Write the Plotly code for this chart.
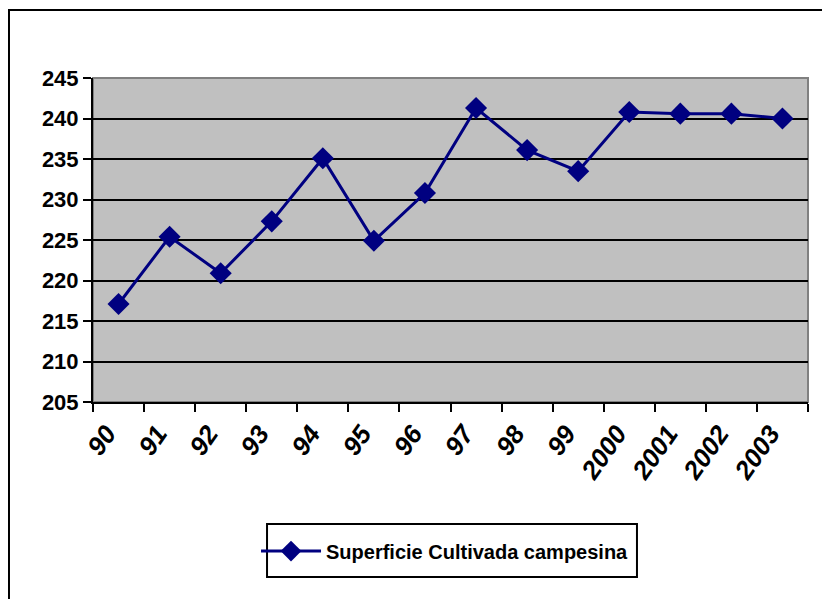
import plotly.graph_objects as go

years = ["90", "91", "92", "93", "94", "95", "96", "97", "98", "99",
         "2000", "2001", "2002", "2003"]
superficie = [217.1, 225.4, 220.9, 227.3, 235.1, 224.9, 230.8,
              241.3, 236.1, 233.5, 240.8, 240.6, 240.6, 240.0]
y_ticks = [205, 210, 215, 220, 225, 230, 235, 240, 245]

navy = "#000080"

fig = go.Figure()
fig.add_trace(go.Scatter(
    x=years, y=superficie,
    mode="lines+markers",
    name="Superficie Cultivada campesina",
    line=dict(color=navy, width=3),
    marker=dict(symbol="diamond", size=17, color=navy),
))

# page has an 8px body margin, so the figure is 8px smaller than the window
fig.update_layout(
    width=822, height=591,
    margin=dict(l=85, r=22, t=70, b=197),
    paper_bgcolor="white",
    plot_bgcolor="#C0C0C0",
    font=dict(family="Liberation Sans, Arial", color="black"),
    showlegend=True,
    legend=dict(
        orientation="h",
        x=0.228, y=-0.46, xanchor="left", yanchor="middle",
        borderwidth=0,
        bgcolor="rgba(0,0,0,0)",
        font=dict(size=20, weight="bold"),
        itemwidth=60,
    ),
)

fig.update_xaxes(
    type="category",
    range=[-0.5, len(years) - 0.5],
    tickangle=-55,
    tickfont=dict(size=26, weight="bold", style="italic"),
    ticklabelstandoff=4,
    ticklabelshift=-12,
    showline=True, linecolor="black", linewidth=2,
    ticks="outside", tickson="boundaries", ticklen=8, tickwidth=2, tickcolor="black",
    showgrid=False,
)
fig.update_yaxes(
    range=[205, 245],
    tickvals=y_ticks,
    tickfont=dict(size=22, weight="bold"),
    showline=True, linecolor="black", linewidth=2,
    ticks="outside", ticklen=8, tickwidth=2, tickcolor="black",
    showgrid=True, gridcolor="black", gridwidth=2,
    zeroline=False,
)

# gray border on top/right of plot area
fig.add_shape(type="rect", xref="paper", yref="paper", x0=0, x1=1, y0=0, y1=1,
              line=dict(color="#808080", width=2), layer="below")
# outer chart frame
fig.add_shape(type="rect", xref="paper", yref="paper", x0=-0.1175, x1=1.2, y0=-1.0, y1=1.2099,
              line=dict(color="black", width=2), layer="below")
# legend box
fig.add_shape(type="rect", xref="paper", yref="paper", x0=0.2434, x1=0.7608, y0=-0.540, y1=-0.3765,
              line=dict(color="black", width=2), layer="below")

fig.write_html("out.html")
